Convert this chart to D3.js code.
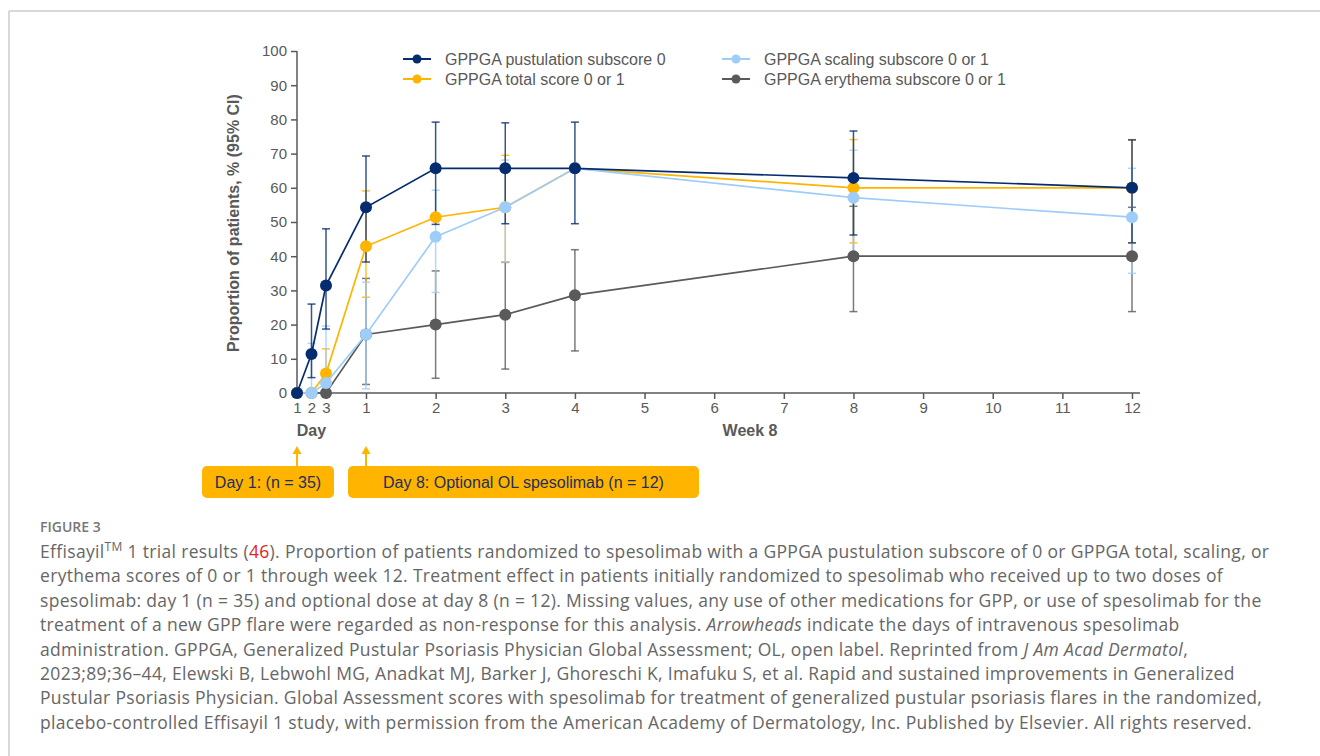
<html>
<head>
    <script src="https://d3js.org/d3.v7.min.js"></script>
    <style>
        body {
            margin: 0;
            background: #fff;
            font-family: "Liberation Sans", Arial, sans-serif;
        }

        .axis text {
            font-size: 15px;
            fill: #595959;
            font-family: "Liberation Sans", Arial, sans-serif;
        }

        .axis line,
        .axis path {
            stroke: #595959;
            stroke-width: 1.5;
        }

        .caption {
            font-family: "Open Sans", sans-serif;
            font-size: 17.5px;
            letter-spacing: 0.33px;
            fill: #666;
        }
    </style>
</head>

<body>
    <svg width="1320" height="756"></svg>
    <script>
        // time points, in study days (week n = day 7n + 1)
        const studyDay = [1, 2, 3, 8, 15, 22, 29, 57, 85];
        const dayTicks = [1, 2, 3];
        const weekTicks = [1, 2, 3, 4, 5, 6, 7, 8, 9, 10, 11, 12];
        const yTicks = [0, 10, 20, 30, 40, 50, 60, 70, 80, 90, 100];

        const seriesNames = ["GPPGA pustulation subscore 0", "GPPGA total score 0 or 1",
            "GPPGA scaling subscore 0 or 1", "GPPGA erythema subscore 0 or 1"];
        const seriesColors = ["#042c6e", "#ffb400", "#9fcdf9", "#5a5a5a"];

        const pustulation = [0, 11.4, 31.4, 54.3, 65.7, 65.7, 65.7, 62.9, 60.0];
        const pustulationLo = [null, 4.5, 18.7, 38.3, 49.3, 49.5, 49.5, 46.2, 43.9];
        const pustulationHi = [null, 26.0, 48.0, 69.3, 79.2, 79.0, 79.2, 76.6, 74.0];

        const total = [0, 0, 5.7, 42.9, 51.4, 54.3, 65.7, 60.0, 60.0];
        const totalLo = [null, null, 0.8, 28.0, null, 38.3, null, 43.9, 43.9];
        const totalHi = [null, null, 12.9, 59.1, null, 69.5, null, 74.1, 74.1];

        const scaling = [0, 0, 2.9, 17.1, 45.7, 54.3, 65.7, 57.1, 51.4];
        const scalingLo = [null, 0, 0.5, 1.2, 29.4, 38.3, null, 39.4, 35.0];
        const scalingHi = [null, 14.5, 19.6, 32.4, 59.3, 68.1, null, 71.0, 65.7];

        const erythema = [0, 0, 0, 17.1, 20.0, 22.9, 28.6, 40.0, 40.0];
        const erythemaLo = [null, null, null, 2.5, 4.3, 7.0, 12.3, 23.8, 23.8];
        const erythemaHi = [null, null, null, 33.5, 35.7, 38.2, 41.9, 54.6, 54.3];

        const captionLines = [
            ["Effisayil", "TM", " 1 trial results (", "46", "). Proportion of patients randomized to spesolimab with a GPPGA pustulation subscore of 0 or GPPGA total, scaling, or"],
            ["erythema scores of 0 or 1 through week 12. Treatment effect in patients initially randomized to spesolimab who received up to two doses of"],
            ["spesolimab: day 1 (n = 35) and optional dose at day 8 (n = 12). Missing values, any use of other medications for GPP, or use of spesolimab for the"],
            ["treatment of a new GPP flare were regarded as non-response for this analysis. ", "Arrowheads", " indicate the days of intravenous spesolimab"],
            ["administration. GPPGA, Generalized Pustular Psoriasis Physician Global Assessment; OL, open label. Reprinted from ", "J Am Acad Dermatol", ","],
            ["2023;89;36\u201344, Elewski B, Lebwohl MG, Anadkat MJ, Barker J, Ghoreschi K, Imafuku S, et al. Rapid and sustained improvements in Generalized"],
            ["Pustular Psoriasis Physician. Global Assessment scores with spesolimab for treatment of generalized pustular psoriasis flares in the randomized,"],
            ["placebo-controlled Effisayil 1 study, with permission from the American Academy of Dermatology, Inc. Published by Elsevier. All rights reserved."]
        ];

        const svg = d3.select("svg");

        // frame lines
        svg.append("line").attr("x1", 9).attr("x2", 1320).attr("y1", 11).attr("y2", 11)
            .attr("stroke", "#cccccc").attr("stroke-width", 1.5);
        svg.append("line").attr("x1", 9).attr("x2", 9).attr("y1", 11).attr("y2", 756)
            .attr("stroke", "#cccccc").attr("stroke-width", 1.5);

        // x is piecewise: days 1-3 spread out, then one step per week
        const xScale = d3.scaleLinear()
            .domain([1, 3, 8, 85])
            .range([297, 326, 366, 1132]);
        const yScale = d3.scaleLinear()
            .domain([0, 100])
            .range([393, 51]);

        // axes
        const leftAxis = d3.axisLeft(yScale).tickValues(yTicks).tickSize(6).tickPadding(4);
        svg.append("g")
            .attr("class", "axis")
            .attr("transform", `translate(${xScale(1)},0)`)
            .call(leftAxis)
            .call(g => g.select(".domain").attr("d", `M0,${yScale(0)}V${yScale(100)}`));

        const xTickValues = dayTicks.concat(weekTicks.map(w => 7 * w + 1));
        const xTickLabels = dayTicks.concat(weekTicks);
        const bottomAxis = d3.axisBottom(xScale)
            .tickValues(xTickValues)
            .tickFormat((d, i) => xTickLabels[i])
            .tickSize(6).tickPadding(3);
        svg.append("g")
            .attr("class", "axis")
            .attr("transform", `translate(0,${yScale(0)})`)
            .call(bottomAxis)
            .call(g => g.select(".domain").attr("d", `M${xScale(1)},0H${xScale(85) + 8}`));

        svg.append("text")
            .attr("x", xScale(2)).attr("y", 436)
            .attr("text-anchor", "middle")
            .style("font-size", "16px").style("font-weight", "bold").style("fill", "#595959")
            .text("Day");
        svg.append("text")
            .attr("x", 750).attr("y", 436)
            .attr("text-anchor", "middle")
            .style("font-size", "16px").style("font-weight", "bold").style("fill", "#595959")
            .text("Week 8");
        svg.append("text")
            .attr("transform", `translate(239,${yScale(50) + 1}) rotate(-90)`)
            .attr("text-anchor", "middle")
            .style("font-size", "16px").style("font-weight", "bold").style("fill", "#595959")
            .text("Proportion of patients, % (95% CI)");

        // series, drawn bottom to top
        const series = [
            { name: seriesNames[3], color: seriesColors[3], v: erythema, lo: erythemaLo, hi: erythemaHi },
            { name: seriesNames[1], color: seriesColors[1], v: total, lo: totalLo, hi: totalHi },
            { name: seriesNames[2], color: seriesColors[2], v: scaling, lo: scalingLo, hi: scalingHi },
            { name: seriesNames[0], color: seriesColors[0], v: pustulation, lo: pustulationLo, hi: pustulationHi }
        ];

        const bars = svg.append("g");
        series.forEach(s => {
            const pts = studyDay.map((d, i) => ({ d, lo: s.lo[i], hi: s.hi[i] })).filter(p => p.lo !== null);
            const g = bars.append("g").attr("stroke", s.color).attr("stroke-width", 1.5)
                .attr("stroke-opacity", 0.8);
            g.selectAll(".v").data(pts).join("line")
                .attr("x1", p => xScale(p.d)).attr("x2", p => xScale(p.d))
                .attr("y1", p => yScale(p.lo)).attr("y2", p => yScale(p.hi));
            g.selectAll(".capHi").data(pts).join("line")
                .attr("x1", p => xScale(p.d) - 4).attr("x2", p => xScale(p.d) + 4)
                .attr("y1", p => yScale(p.hi)).attr("y2", p => yScale(p.hi));
            g.selectAll(".capLo").data(pts).join("line")
                .attr("x1", p => xScale(p.d) - 4).attr("x2", p => xScale(p.d) + 4)
                .attr("y1", p => yScale(p.lo)).attr("y2", p => yScale(p.lo));
        });

        const line = d3.line().x(p => xScale(p.d)).y(p => yScale(p.v));
        series.forEach(s => {
            const pts = studyDay.map((d, i) => ({ d, v: s.v[i] }));
            svg.append("path")
                .datum(pts)
                .attr("d", line)
                .attr("fill", "none")
                .attr("stroke", s.color)
                .attr("stroke-width", 1.7);
            svg.append("g").selectAll("circle").data(pts).join("circle")
                .attr("cx", p => xScale(p.d))
                .attr("cy", p => yScale(p.v))
                .attr("r", 6)
                .attr("fill", s.color);
        });

        // legend
        const legendItems = [
            { name: seriesNames[0], color: seriesColors[0], x: 403, y: 59 },
            { name: seriesNames[1], color: seriesColors[1], x: 403, y: 79 },
            { name: seriesNames[2], color: seriesColors[2], x: 722, y: 59 },
            { name: seriesNames[3], color: seriesColors[3], x: 722, y: 79 }
        ];
        const legend = svg.append("g").selectAll("g").data(legendItems).join("g")
            .attr("transform", d => `translate(${d.x},${d.y})`);
        legend.append("line").attr("x1", 0).attr("x2", 28).attr("stroke", d => d.color).attr("stroke-width", 2);
        legend.append("circle").attr("cx", 14).attr("r", 4.5).attr("fill", d => d.color);
        legend.append("text").attr("x", 42).attr("dy", "0.35em")
            .style("font-size", "16px").style("fill", "#595959")
            .text(d => d.name);

        // dosing annotations
        const notes = [
            { text: "Day 1: (n = 35)", day: 1, x0: 202, x1: 334 },
            { text: "Day 8: Optional OL spesolimab (n = 12)", day: 8, x0: 348, x1: 699 }
        ];
        const note = svg.append("g").selectAll("g").data(notes).join("g");
        note.append("line")
            .attr("x1", d => xScale(d.day)).attr("x2", d => xScale(d.day))
            .attr("y1", 452).attr("y2", 466)
            .attr("stroke", "#ffb400").attr("stroke-width", 2);
        note.append("path")
            .attr("d", d => `M${xScale(d.day) - 4.5},454L${xScale(d.day)},446L${xScale(d.day) + 4.5},454Z`)
            .attr("fill", "#ffb400");
        note.append("rect")
            .attr("x", d => d.x0).attr("y", 466)
            .attr("width", d => d.x1 - d.x0).attr("height", 32)
            .attr("rx", 5)
            .attr("fill", "#ffb400");
        note.append("text")
            .attr("x", d => (d.x0 + d.x1) / 2).attr("y", 482).attr("dy", "0.35em")
            .attr("text-anchor", "middle")
            .style("font-size", "16px").style("fill", "#1d2f5c")
            .text(d => d.text);

        // caption
        svg.append("text")
            .attr("x", 40).attr("y", 532)
            .style("font-family", "'Open Sans', sans-serif")
            .style("font-size", "14px").style("font-weight", "600").style("fill", "#777")
            .text("FIGURE 3");

        const cap = svg.append("text").attr("class", "caption");
        captionLines.forEach((parts, li) => {
            const row = cap.append("tspan").attr("x", 40).attr("y", 558 + li * 24.4);
            parts.forEach((p, pi) => {
                if (pi === 0) { row.text(p); return; }
                const t = cap.append("tspan");
                if (li === 0 && p === "TM") {
                    t.attr("dy", -7).style("font-size", "12px").text(p);
                } else if (li === 0 && pi === 2) {
                    t.attr("dy", 7).text(p);
                } else if (li === 0 && p === "46") {
                    t.style("fill", "#e1251b").text(p);
                } else if (p === "Arrowheads" || p === "J Am Acad Dermatol") {
                    t.style("font-style", "italic").text(p);
                } else {
                    t.text(p);
                }
            });
        });
    </script>
</body>
</html>
